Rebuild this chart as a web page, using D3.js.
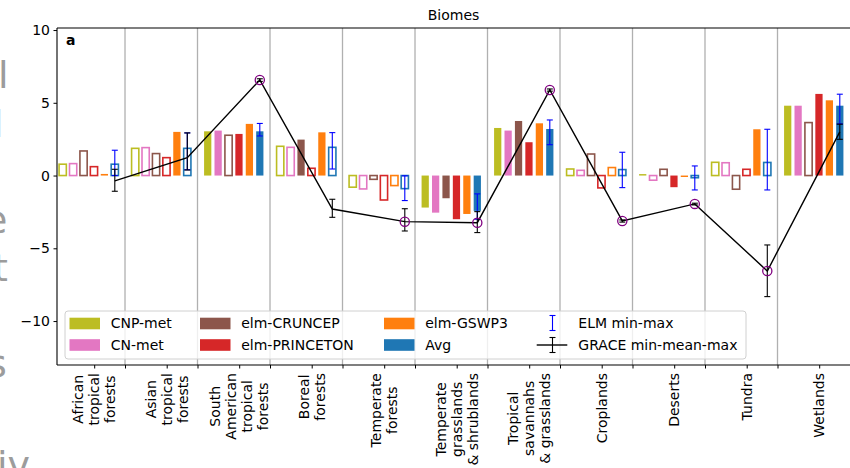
<!DOCTYPE html>
<html><head><meta charset="utf-8">
<script src="https://cdn.jsdelivr.net/npm/d3@7"></script>
<style>body{margin:0;background:#fff;} svg{display:block;font-family:"DejaVu Sans",sans-serif;}</style>
</head><body>
<svg id="chart" width="850" height="468"></svg>
<script>
// ---------------- data ----------------
const categories = ["African\ntropical\nforests","Asian\ntropical\nforests","South\nAmerican\ntropical\nforests","Boreal\nforests","Temperate\nforests","Temperate\ngrasslands\n& shrublands","Tropical\nsavannahs\n& grasslands","Croplands","Deserts","Tundra","Wetlands"];
const seriesNames = ["CNP-met","CN-met","elm-CRUNCEP","elm-PRINCETON","elm-GSWP3","Avg"];
const seriesColors = ["#bcbd22","#e377c2","#8c564b","#d62728","#ff7f0e","#1f77b4"];
const cnpMet      = [0.78, 1.87, 3.04, 2.01, -0.80, -2.20, 3.27, 0.45, 0.10, 0.91, 4.80];
const cnMet       = [0.82, 1.92, 3.09, 1.94, -0.92, -2.55, 3.09, 0.36, -0.32, 0.88, 4.80];
const elmCruncep  = [1.69, 1.51, 2.77, 2.47, -0.26, -1.56, 3.75, 1.48, 0.43, -0.94, 3.64];
const elmPrinceton= [0.61, 1.23, 2.86, 0.50, -1.68, -3.00, 2.29, -0.85, -0.80, 0.43, 5.61];
const elmGswp3    = [0.11, 3.00, 3.55, 2.97, -0.69, -2.64, 3.59, 0.55, -0.10, 3.18, 5.17];
const avgVals     = [0.78, 1.87, 3.04, 1.94, -0.90, -2.43, 3.20, 0.41, -0.15, 0.90, 4.80];
// 1 = filled bar, 0 = hollow bar
const cnpMetFilled      = [0,0,1,0,0,1,1,0,1,0,1];
const cnMetFilled       = [0,0,1,0,0,1,1,0,0,0,1];
const elmCruncepFilled  = [0,0,0,1,0,1,1,0,0,0,0];
const elmPrincetonFilled= [0,0,1,0,0,1,1,0,1,0,1];
const elmGswp3Filled    = [1,1,1,1,0,1,1,0,1,1,1];
const avgFilled         = [0,0,1,0,0,1,1,0,0,0,1];
const elmMin = [0.00, 0.40, 2.72, 0.45, -1.72, -3.00, 2.12, -0.83, -0.99, -0.99, 3.55];
const elmMax = [1.74, 2.93, 3.58, 2.95, -0.02, -1.26, 3.82, 1.60, 0.66, 3.18, 5.59];
const graceMean = [-0.37, 1.23, 6.57, -2.30, -3.17, -3.24, 5.88, -3.12, -1.95, -6.56, 3.00];
const graceMin  = [-1.08, 0.38, 6.47, -2.87, -3.81, -3.92, 5.80, -3.20, -2.02, -8.32, 2.49];
const graceMax  = [0.43, 2.93, 6.65, -1.63, -2.28, -2.48, 5.95, -3.05, -1.90, -4.77, 3.53];
const graceCircle = [0,0,1,0,1,1,1,1,1,1,0];
const yTicks = [-10,-5,0,5,10];
const title = "Biomes";
const panelLabel = "a";

const seriesVals = [cnpMet, cnMet, elmCruncep, elmPrinceton, elmGswp3, avgVals];
const seriesFilled = [cnpMetFilled, cnMetFilled, elmCruncepFilled, elmPrincetonFilled, elmGswp3Filled, avgFilled];

// ---------------- layout ----------------
const svg = d3.select("#chart");
const L=57, R=850, T=28, B=365;
const x = d3.scaleLinear().domain([-0.438, 10.5]).range([L, R]);
const y = d3.scaleLinear().domain([-13.02, 10.14]).range([B, T]);
const step = 0.1437, barW = 0.1;
const barX = (i,k) => i + (k-2.5)*step;
const labelShift = 0.075;

// stray fragments of neighbouring text at left edge
const frag = svg.append("g").attr("fill","#9c9c9c").attr("font-size",38);
[["l",-2,88],["l",-7,137],["e",-16,233],["t",-7,281],["s",-13,377],["iv",-3,478]].forEach(f=>{
  frag.append("text").attr("x",f[1]).attr("y",f[2]).text(f[0]);
});

// gridlines at category boundaries
const bounds = d3.range(0,10).map(i=>i+0.5);
svg.append("g").selectAll("line").data(bounds).join("line")
  .attr("x1",d=>x(d)).attr("x2",d=>x(d)).attr("y1",T).attr("y2",B)
  .attr("stroke","#b0b0b0").attr("stroke-width",1.3);

// bars
const plot = svg.append("g");
seriesVals.forEach((vals,k)=>{
  plot.append("g").selectAll("rect").data(vals).join("rect")
    .attr("x",(d,i)=>x(barX(i,k)-barW/2))
    .attr("width",x(barW)-x(0))
    .attr("y",d=>y(Math.max(0,d)))
    .attr("height",d=>Math.abs(y(d)-y(0)))
    .attr("fill",(d,i)=>seriesFilled[k][i]?seriesColors[k]:"#ffffff")
    .attr("stroke",(d,i)=>seriesFilled[k][i]?"none":seriesColors[k])
    .attr("stroke-width",1.6);
});

// ELM min-max error bars (blue)
const cap=3;
const elmG = plot.append("g").attr("stroke","#0000ff").attr("stroke-width",1.1);
categories.forEach((c,i)=>{
  const cx = x(barX(i,5));
  elmG.append("line").attr("x1",cx).attr("x2",cx).attr("y1",y(elmMin[i])).attr("y2",y(elmMax[i]));
  elmG.append("line").attr("x1",cx-cap).attr("x2",cx+cap).attr("y1",y(elmMin[i])).attr("y2",y(elmMin[i]));
  elmG.append("line").attr("x1",cx-cap).attr("x2",cx+cap).attr("y1",y(elmMax[i])).attr("y2",y(elmMax[i]));
});

// GRACE line + error bars
const gx = i => x(barX(i,5));
plot.append("path").datum(graceMean)
  .attr("d", d3.line().x((d,i)=>gx(i)).y(d=>y(d)))
  .attr("fill","none").attr("stroke","#000").attr("stroke-width",1.4);
const grG = plot.append("g").attr("stroke","#000").attr("stroke-width",1.1);
categories.forEach((c,i)=>{
  const cx = gx(i);
  grG.append("line").attr("x1",cx).attr("x2",cx).attr("y1",y(graceMin[i])).attr("y2",y(graceMax[i]));
  grG.append("line").attr("x1",cx-cap).attr("x2",cx+cap).attr("y1",y(graceMin[i])).attr("y2",y(graceMin[i]));
  grG.append("line").attr("x1",cx-cap).attr("x2",cx+cap).attr("y1",y(graceMax[i])).attr("y2",y(graceMax[i]));
});
plot.append("g").selectAll("circle").data(graceMean.map((d,i)=>({d,i})).filter(o=>graceCircle[o.i]))
  .join("circle").attr("cx",o=>gx(o.i)).attr("cy",o=>y(o.d)).attr("r",4.6)
  .attr("fill","none").attr("stroke","#800080").attr("stroke-width",1.3);

// axes
const yAxis = svg.append("g").attr("transform",`translate(${L},0)`)
  .call(d3.axisLeft(y).tickValues(yTicks).tickSize(3.5).tickPadding(3.5)
    .tickFormat(d=> d<0 ? "\u2212"+Math.abs(d) : String(d)));
yAxis.select(".domain").remove();
yAxis.selectAll("text").attr("font-size",14).attr("font-family","DejaVu Sans").attr("fill","#000");
yAxis.selectAll("line").attr("stroke","#000");

const xAxisB = svg.append("g").attr("transform",`translate(0,${B})`)
  .call(d3.axisBottom(x).tickValues(bounds.concat(d3.range(11).map(i=>i+labelShift))).tickSize(3.5).tickFormat(""));
xAxisB.select(".domain").remove();
xAxisB.selectAll("line").attr("stroke","#000");

// spines
svg.append("line").attr("x1",L).attr("x2",L).attr("y1",T).attr("y2",B).attr("stroke","#000").attr("stroke-width",1.1);
svg.append("line").attr("x1",L).attr("x2",R).attr("y1",T).attr("y2",T).attr("stroke","#000").attr("stroke-width",1.1);
svg.append("line").attr("x1",L).attr("x2",R).attr("y1",B).attr("y2",B).attr("stroke","#000").attr("stroke-width",1.1);

// x labels (rotated, multi-line, centred)
const lh = 16;
categories.forEach((c,i)=>{
  const lines = c.split("\n");
  const g = svg.append("g").attr("transform",`translate(${x(i+labelShift)},373) rotate(-90)`);
  const texts = lines.map((ln,j)=> g.append("text").attr("font-size",14).attr("text-anchor","middle")
      .attr("dy","0.35em").attr("y",(j-(lines.length-1)/2)*lh).text(ln));
  const maxLen = d3.max(texts, t=>t.node().getComputedTextLength());
  texts.forEach(t=>t.attr("x",-maxLen/2));
});

// title & panel label
svg.append("text").attr("x",(L+R)/2).attr("y",20).attr("text-anchor","middle").attr("font-size",14).text(title);
svg.append("text").attr("x",66).attr("y",45).attr("font-size",14).attr("font-weight","bold").text(panelLabel);

// legend
const lg = svg.append("g");
lg.append("rect").attr("x",65).attr("y",311).attr("width",681).attr("height",48).attr("rx",3)
  .attr("fill","#fff").attr("fill-opacity",0.8).attr("stroke","#d0d0d0").attr("stroke-width",1);
const colX = [69.5, 200, 384];
const rowY = [323.5, 345];
seriesNames.forEach((n,k)=>{
  const col = Math.floor(k/2), row = k%2;
  lg.append("rect").attr("x",colX[col]).attr("y",rowY[row]-5.8).attr("width",30.5).attr("height",11.6).attr("fill",seriesColors[k]);
  lg.append("text").attr("x",colX[col]+41.2).attr("y",rowY[row]).attr("dy","0.35em").attr("font-size",14).text(n);
});
// ELM handle
const hx = 552.5;
const eh = lg.append("g").attr("stroke","#0000ff").attr("stroke-width",1.1);
eh.append("line").attr("x1",hx).attr("x2",hx).attr("y1",315.5).attr("y2",330.5);
eh.append("line").attr("x1",hx-cap).attr("x2",hx+cap).attr("y1",315.5).attr("y2",315.5);
eh.append("line").attr("x1",hx-cap).attr("x2",hx+cap).attr("y1",330.5).attr("y2",330.5);
lg.append("text").attr("x",578.3).attr("y",rowY[0]).attr("dy","0.35em").attr("font-size",14).text("ELM min-max");
const gh = lg.append("g").attr("stroke","#000").attr("stroke-width",1.1);
gh.append("line").attr("x1",536.7).attr("x2",567.3).attr("y1",rowY[1]).attr("y2",rowY[1]).attr("stroke-width",1.4);
gh.append("line").attr("x1",hx).attr("x2",hx).attr("y1",337.5).attr("y2",352.5);
gh.append("line").attr("x1",hx-cap).attr("x2",hx+cap).attr("y1",337.5).attr("y2",337.5);
gh.append("line").attr("x1",hx-cap).attr("x2",hx+cap).attr("y1",352.5).attr("y2",352.5);
lg.append("text").attr("x",578.3).attr("y",rowY[1]).attr("dy","0.35em").attr("font-size",14).text("GRACE min-mean-max");
</script>
</body></html>
